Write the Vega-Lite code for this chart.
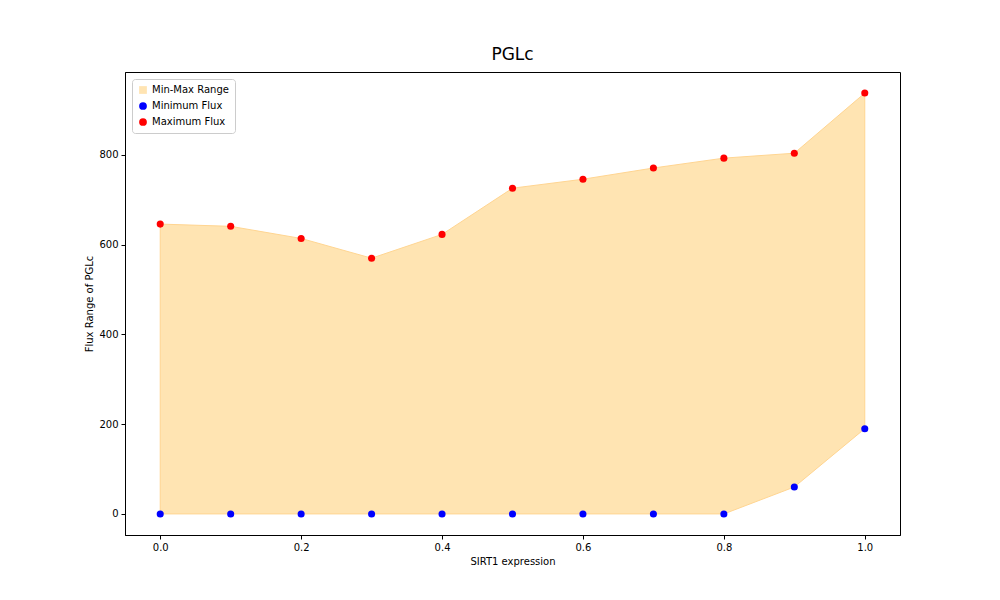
{
  "$schema": "https://vega.github.io/schema/vega-lite/v6.json",
  "width": 775,
  "height": 463,
  "autosize": {"type": "none"},
  "padding": {"left": 125, "top": 72, "right": 100, "bottom": 65},
  "background": "white",
  "title": {"text": "PGLc", "fontSize": 17, "fontWeight": "normal", "font": "DejaVu Sans", "offset": 8},
  "data": {
    "values": [
      {"x": 0.0, "min": 0, "max": 646},
      {"x": 0.1, "min": 0, "max": 641},
      {"x": 0.2, "min": 0, "max": 614},
      {"x": 0.3, "min": 0, "max": 570},
      {"x": 0.4, "min": 0, "max": 623},
      {"x": 0.5, "min": 0, "max": 726},
      {"x": 0.6, "min": 0, "max": 746},
      {"x": 0.7, "min": 0, "max": 771},
      {"x": 0.8, "min": 0, "max": 793},
      {"x": 0.9, "min": 60, "max": 804},
      {"x": 1.0, "min": 190, "max": 938}
    ]
  },
  "encoding": {
    "x": {"field": "x", "type": "quantitative", "scale": {"domain": [-0.05, 1.05], "nice": false, "zero": false},
      "axis": {"title": "SIRT1 expression", "values": [0, 0.2, 0.4, 0.6, 0.8, 1.0], "format": ".1f"}}
  },
  "layer": [
    {
      "mark": {"type": "area", "stroke": "#ffd591", "strokeWidth": 1, "opacity": 1},
      "encoding": {
        "y": {"field": "min", "type": "quantitative", "scale": {"domain": [-47, 985], "nice": false},
          "axis": {"title": "Flux Range of PGLc", "values": [0, 200, 400, 600, 800]}},
        "y2": {"field": "max"},
        "color": {"datum": "Min-Max Range", "type": "nominal",
          "scale": {"domain": ["Min-Max Range", "Minimum Flux", "Maximum Flux"], "range": ["#ffe4b2", "blue", "red"]},
          "legend": {"title": null}}
      }
    },
    {
      "mark": {"type": "point", "filled": true, "size": 50, "opacity": 1},
      "encoding": {
        "y": {"field": "min", "type": "quantitative"},
        "color": {"datum": "Minimum Flux", "type": "nominal"},
        "shape": {"datum": "Minimum Flux", "type": "nominal",
          "scale": {"domain": ["Min-Max Range", "Minimum Flux", "Maximum Flux"], "range": ["square", "circle", "circle"]},
          "legend": {"title": null}}
      }
    },
    {
      "mark": {"type": "point", "filled": true, "size": 50, "opacity": 1},
      "encoding": {
        "y": {"field": "max", "type": "quantitative"},
        "color": {"datum": "Maximum Flux", "type": "nominal"},
        "shape": {"datum": "Maximum Flux", "type": "nominal"}
      }
    }
  ],
  "config": {
    "font": "DejaVu Sans",
    "view": {"stroke": "black", "strokeWidth": 1},
    "axis": {"grid": false, "domainColor": "black", "tickColor": "black", "labelColor": "black", "titleColor": "black",
      "labelFontSize": 10, "titleFontSize": 10, "titleFontWeight": "normal", "tickSize": 4, "labelPadding": 3},
    "legend": {"orient": "top-left", "offset": 7, "strokeColor": "#cccccc", "fillColor": "white", "cornerRadius": 3,
      "padding": 6, "labelFontSize": 10, "symbolSize": 60, "rowPadding": 6, "labelColor": "black", "symbolStrokeWidth": 0}
  }
}
